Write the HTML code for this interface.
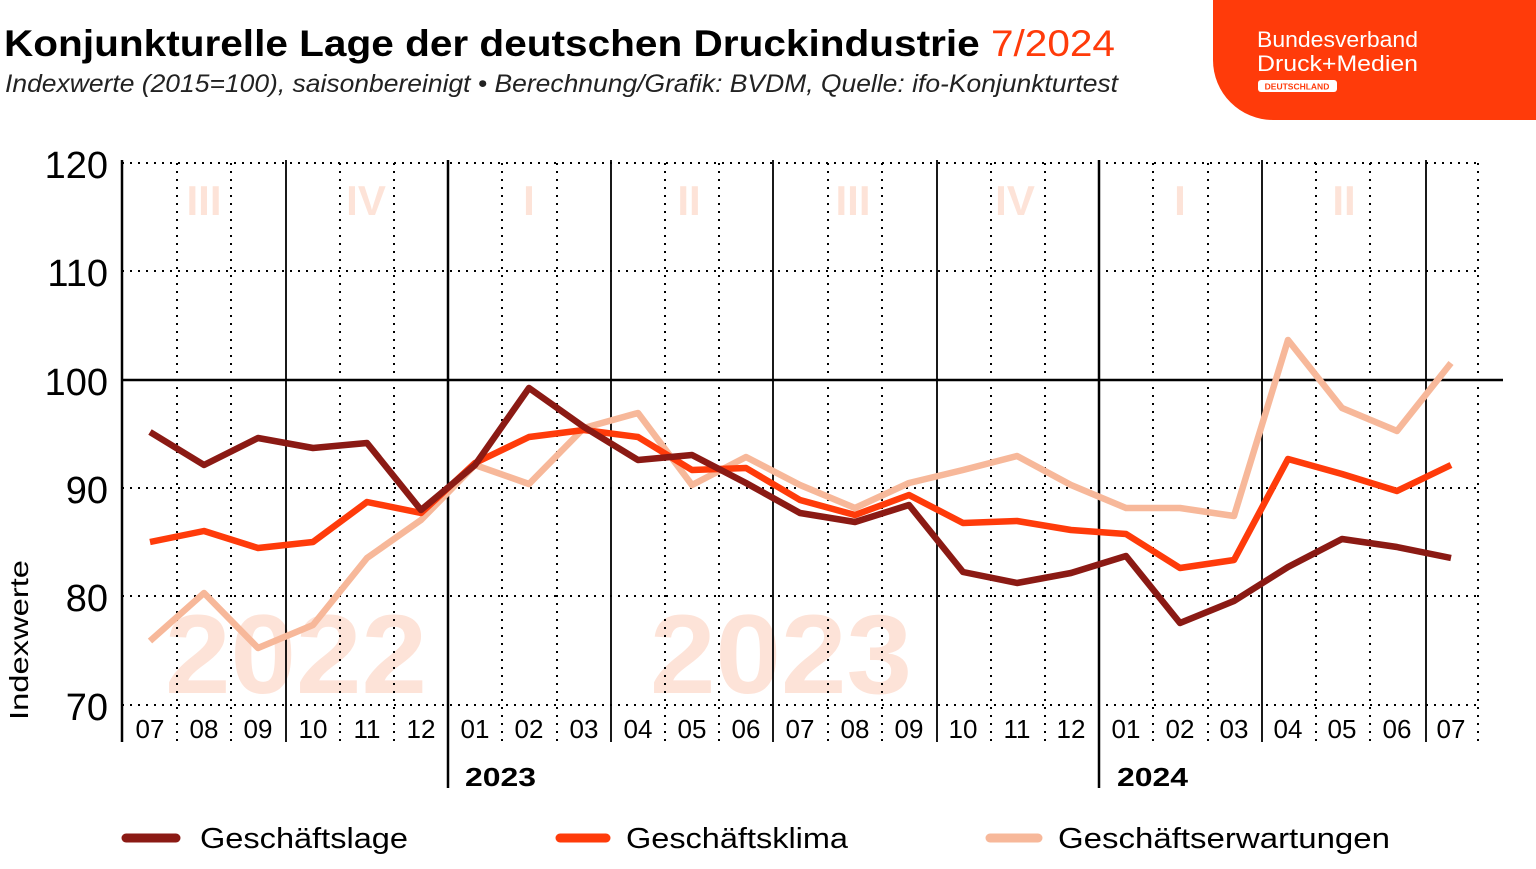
<!DOCTYPE html>
<html><head><meta charset="utf-8"><style>
body{margin:0;width:1536px;height:864px;background:#fff;overflow:hidden;font-family:"Liberation Sans",sans-serif}
</style></head><body>
<svg width="1536" height="864" xmlns="http://www.w3.org/2000/svg" font-family="Liberation Sans, sans-serif">
<path d="M1213 0 H1536 V120 H1273 A60 60 0 0 1 1213 60 Z" fill="#ff3b0a"/>
<text x="1257" y="47" fill="#fff" font-size="22" textLength="161" lengthAdjust="spacingAndGlyphs">Bundesverband</text>
<text x="1257" y="71" fill="#fff" font-size="22" textLength="161" lengthAdjust="spacingAndGlyphs">Druck+Medien</text>
<rect x="1258" y="80" width="79" height="12" rx="3" fill="#fff"/>
<text x="1297" y="89.5" fill="#ff3b0a" font-size="8.5" font-weight="bold" text-anchor="middle">DEUTSCHLAND</text>
<text x="4" y="56" font-size="37" font-weight="bold" textLength="1111" lengthAdjust="spacingAndGlyphs">Konjunkturelle Lage der deutschen Druckindustrie <tspan fill="#ff3b0a" font-weight="normal">7/2024</tspan></text>
<text x="5" y="92" font-size="25" font-style="italic" fill="#222" textLength="1113" lengthAdjust="spacingAndGlyphs">Indexwerte (2015=100), saisonbereinigt • Berechnung/Grafik: BVDM, Quelle: ifo-Konjunkturtest</text>
<g fill="#fde3d8" font-weight="bold" text-anchor="middle">
<g font-size="42"><text x="204" y="215">III</text><text x="366" y="215">IV</text><text x="529" y="215">I</text><text x="689" y="215">II</text><text x="853" y="215">III</text><text x="1015" y="215">IV</text><text x="1180" y="215">I</text><text x="1344" y="215">II</text></g>
<g font-size="112"><text x="296" y="693" textLength="262" lengthAdjust="spacingAndGlyphs">2022</text><text x="781" y="693" textLength="262" lengthAdjust="spacingAndGlyphs">2023</text></g>
</g>
<g stroke="#000" stroke-width="2" stroke-dasharray="2 6" fill="none">
<path d="M122 163H1480M122 271H1480M122 488H1480M122 596H1480M122 705H1480"/>
<path d="M177 163V742M231 163V742M340 163V742M394 163V742M502 163V742M557 163V742M665 163V742M719 163V742M828 163V742M882 163V742M991 163V742M1045 163V742M1153 163V742M1208 163V742M1316 163V742M1370 163V742M1478 163V742"/>
</g>
<g stroke="#000" fill="none">
<path d="M122 160V742M448 160V788M1099 160V788" stroke-width="2.5"/>
<path d="M286 160V742M611 160V742M773 160V742M937 160V742M1262 160V742M1426 160V742" stroke-width="1.8"/>
<path d="M122 380H1503" stroke-width="2.5"/>
</g>
<g font-size="38" text-anchor="end"><text x="108" y="178">120</text><text x="108" y="286">110</text><text x="108" y="395">100</text><text x="108" y="503">90</text><text x="108" y="611">80</text><text x="108" y="720">70</text></g>
<text transform="translate(28 640) rotate(-90)" font-size="26" text-anchor="middle" textLength="160" lengthAdjust="spacingAndGlyphs">Indexwerte</text>
<g font-size="26" text-anchor="middle">
<text x="150" y="738">07</text><text x="204" y="738">08</text><text x="258" y="738">09</text><text x="313" y="738">10</text><text x="367" y="738">11</text><text x="421" y="738">12</text><text x="475" y="738">01</text><text x="529" y="738">02</text><text x="584" y="738">03</text><text x="638" y="738">04</text><text x="692" y="738">05</text><text x="746" y="738">06</text><text x="800" y="738">07</text><text x="855" y="738">08</text><text x="909" y="738">09</text><text x="963" y="738">10</text><text x="1017" y="738">11</text><text x="1071" y="738">12</text><text x="1126" y="738">01</text><text x="1180" y="738">02</text><text x="1234" y="738">03</text><text x="1288" y="738">04</text><text x="1342" y="738">05</text><text x="1397" y="738">06</text><text x="1451" y="738">07</text>
</g>
<text x="465" y="786" font-size="26" font-weight="bold" textLength="71" lengthAdjust="spacingAndGlyphs">2023</text>
<text x="1117" y="786" font-size="26" font-weight="bold" textLength="71" lengthAdjust="spacingAndGlyphs">2024</text>
<g fill="none" stroke-width="6.5" stroke-linejoin="round">
<polyline stroke="#f7b89a" points="150,641 204,593 258,648 313,625 367,558 421,520 475,465 529,484 584,428 638,413 692,485 746,457 800,485 855,508 909,483 963,470 1017,456 1071,485 1126,508 1180,508 1234,516 1288,340 1342,408 1397,431 1451,363"/>
<polyline stroke="#ff3b0a" points="150,542 204,531 258,548 313,542 367,502 421,513 475,463 529,437 584,430 638,437 692,470 746,468 800,500 855,515 909,495 963,523 1017,521 1071,530 1126,534 1180,568 1234,560 1288,459 1342,474 1397,491 1451,465"/>
<polyline stroke="#8b1a14" points="150,432 204,465 258,438 313,448 367,443 421,510 475,465 529,388 584,427 638,460 692,455 746,483 800,513 855,522 909,505 963,572 1017,583 1071,573 1126,556 1180,623 1234,601 1288,567 1342,539 1397,547 1451,558"/>
</g>
<g stroke-width="9" stroke-linecap="round">
<line x1="126" y1="838" x2="176" y2="838" stroke="#8b1a14"/>
<line x1="560" y1="838" x2="606" y2="838" stroke="#ff3b0a"/>
<line x1="990" y1="838" x2="1038" y2="838" stroke="#f7b89a"/>
</g>
<g font-size="29"><text x="200" y="848" textLength="208" lengthAdjust="spacingAndGlyphs">Geschäftslage</text><text x="626" y="848" textLength="222" lengthAdjust="spacingAndGlyphs">Geschäftsklima</text><text x="1058" y="848" textLength="332" lengthAdjust="spacingAndGlyphs">Geschäftserwartungen</text></g>
</svg>
</body></html>
